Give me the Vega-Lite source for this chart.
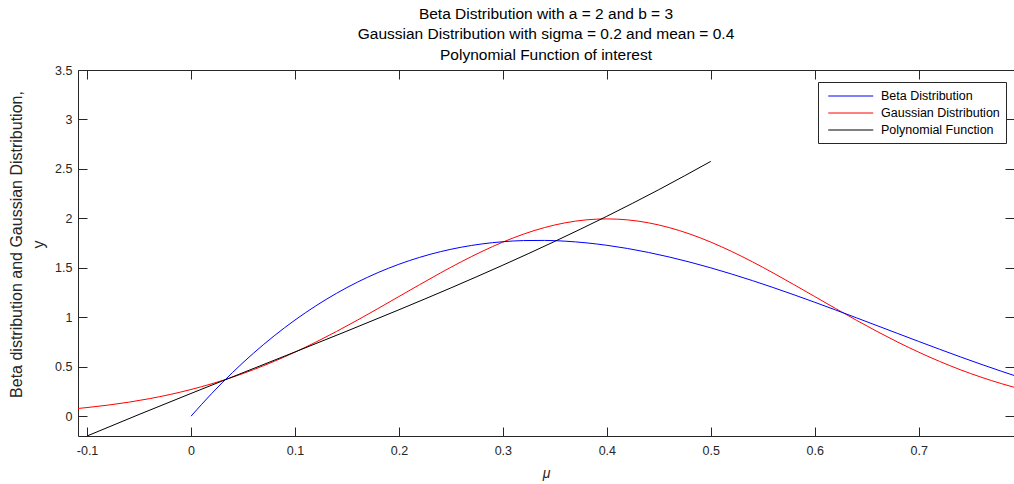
{
  "$schema": "https://vega.github.io/schema/vega-lite/v6.json",
  "width": 936,
  "height": 366,
  "autosize": {"type": "none"},
  "padding": {"left": 78, "top": 70, "right": 0, "bottom": 48},
  "background": "white",
  "config": {
    "font": "Liberation Sans",
    "view": {"stroke": "#262626", "strokeWidth": 1},
    "axis": {"grid": false, "domain": false, "tickColor": "#262626", "labelColor": "#262626", "titleColor": "#262626", "labelFont": "Liberation Sans", "titleFont": "Liberation Sans"}
  },
  "title": {
    "text": ["Beta Distribution with a = 2 and b = 3", "Gaussian Distribution with sigma = 0.2 and mean = 0.4", "Polynomial Function of interest"],
    "fontSize": 15.5,
    "fontWeight": "normal",
    "color": "#000000",
    "lineHeight": 20.5,
    "anchor": "middle",
    "offset": 1,
    "font": "Liberation Sans"
  },
  "data": {"values": [
    {"x": -0.1087, "y": 0.0782, "s": "Gaussian Distribution"},
    {"x": -0.1, "y": 0.0876, "s": "Gaussian Distribution"},
    {"x": -0.08, "y": 0.1120, "s": "Gaussian Distribution"},
    {"x": -0.06, "y": 0.1416, "s": "Gaussian Distribution"},
    {"x": -0.04, "y": 0.1774, "s": "Gaussian Distribution"},
    {"x": -0.02, "y": 0.2199, "s": "Gaussian Distribution"},
    {"x": 0.0, "y": 0.2700, "s": "Gaussian Distribution"},
    {"x": 0.02, "y": 0.3281, "s": "Gaussian Distribution"},
    {"x": 0.04, "y": 0.3948, "s": "Gaussian Distribution"},
    {"x": 0.06, "y": 0.4702, "s": "Gaussian Distribution"},
    {"x": 0.08, "y": 0.5546, "s": "Gaussian Distribution"},
    {"x": 0.10, "y": 0.6476, "s": "Gaussian Distribution"},
    {"x": 0.12, "y": 0.7486, "s": "Gaussian Distribution"},
    {"x": 0.14, "y": 0.8568, "s": "Gaussian Distribution"},
    {"x": 0.16, "y": 0.9709, "s": "Gaussian Distribution"},
    {"x": 0.18, "y": 1.0892, "s": "Gaussian Distribution"},
    {"x": 0.20, "y": 1.2099, "s": "Gaussian Distribution"},
    {"x": 0.22, "y": 1.3304, "s": "Gaussian Distribution"},
    {"x": 0.24, "y": 1.4485, "s": "Gaussian Distribution"},
    {"x": 0.26, "y": 1.5613, "s": "Gaussian Distribution"},
    {"x": 0.28, "y": 1.6661, "s": "Gaussian Distribution"},
    {"x": 0.30, "y": 1.7603, "s": "Gaussian Distribution"},
    {"x": 0.32, "y": 1.8414, "s": "Gaussian Distribution"},
    {"x": 0.34, "y": 1.9069, "s": "Gaussian Distribution"},
    {"x": 0.36, "y": 1.9552, "s": "Gaussian Distribution"},
    {"x": 0.38, "y": 1.9848, "s": "Gaussian Distribution"},
    {"x": 0.40, "y": 1.9947, "s": "Gaussian Distribution"},
    {"x": 0.42, "y": 1.9848, "s": "Gaussian Distribution"},
    {"x": 0.44, "y": 1.9552, "s": "Gaussian Distribution"},
    {"x": 0.46, "y": 1.9069, "s": "Gaussian Distribution"},
    {"x": 0.48, "y": 1.8414, "s": "Gaussian Distribution"},
    {"x": 0.50, "y": 1.7603, "s": "Gaussian Distribution"},
    {"x": 0.52, "y": 1.6661, "s": "Gaussian Distribution"},
    {"x": 0.54, "y": 1.5613, "s": "Gaussian Distribution"},
    {"x": 0.56, "y": 1.4485, "s": "Gaussian Distribution"},
    {"x": 0.58, "y": 1.3304, "s": "Gaussian Distribution"},
    {"x": 0.60, "y": 1.2099, "s": "Gaussian Distribution"},
    {"x": 0.62, "y": 1.0892, "s": "Gaussian Distribution"},
    {"x": 0.64, "y": 0.9709, "s": "Gaussian Distribution"},
    {"x": 0.66, "y": 0.8568, "s": "Gaussian Distribution"},
    {"x": 0.68, "y": 0.7486, "s": "Gaussian Distribution"},
    {"x": 0.70, "y": 0.6476, "s": "Gaussian Distribution"},
    {"x": 0.72, "y": 0.5546, "s": "Gaussian Distribution"},
    {"x": 0.74, "y": 0.4702, "s": "Gaussian Distribution"},
    {"x": 0.76, "y": 0.3948, "s": "Gaussian Distribution"},
    {"x": 0.78, "y": 0.3281, "s": "Gaussian Distribution"},
    {"x": 0.7917, "y": 0.2931, "s": "Gaussian Distribution"},
    {"x": 0.0, "y": 0.0, "s": "Beta Distribution"},
    {"x": 0.02, "y": 0.2305, "s": "Beta Distribution"},
    {"x": 0.04, "y": 0.4424, "s": "Beta Distribution"},
    {"x": 0.06, "y": 0.6362, "s": "Beta Distribution"},
    {"x": 0.08, "y": 0.8125, "s": "Beta Distribution"},
    {"x": 0.10, "y": 0.9720, "s": "Beta Distribution"},
    {"x": 0.12, "y": 1.1151, "s": "Beta Distribution"},
    {"x": 0.14, "y": 1.2425, "s": "Beta Distribution"},
    {"x": 0.16, "y": 1.3548, "s": "Beta Distribution"},
    {"x": 0.18, "y": 1.4524, "s": "Beta Distribution"},
    {"x": 0.20, "y": 1.5360, "s": "Beta Distribution"},
    {"x": 0.22, "y": 1.6062, "s": "Beta Distribution"},
    {"x": 0.24, "y": 1.6635, "s": "Beta Distribution"},
    {"x": 0.26, "y": 1.7085, "s": "Beta Distribution"},
    {"x": 0.28, "y": 1.7418, "s": "Beta Distribution"},
    {"x": 0.30, "y": 1.7640, "s": "Beta Distribution"},
    {"x": 0.32, "y": 1.7756, "s": "Beta Distribution"},
    {"x": 0.34, "y": 1.7772, "s": "Beta Distribution"},
    {"x": 0.36, "y": 1.7695, "s": "Beta Distribution"},
    {"x": 0.38, "y": 1.7529, "s": "Beta Distribution"},
    {"x": 0.40, "y": 1.7280, "s": "Beta Distribution"},
    {"x": 0.42, "y": 1.6955, "s": "Beta Distribution"},
    {"x": 0.44, "y": 1.6558, "s": "Beta Distribution"},
    {"x": 0.46, "y": 1.6096, "s": "Beta Distribution"},
    {"x": 0.48, "y": 1.5575, "s": "Beta Distribution"},
    {"x": 0.50, "y": 1.5000, "s": "Beta Distribution"},
    {"x": 0.52, "y": 1.4377, "s": "Beta Distribution"},
    {"x": 0.54, "y": 1.3712, "s": "Beta Distribution"},
    {"x": 0.56, "y": 1.3010, "s": "Beta Distribution"},
    {"x": 0.58, "y": 1.2277, "s": "Beta Distribution"},
    {"x": 0.60, "y": 1.1520, "s": "Beta Distribution"},
    {"x": 0.62, "y": 1.0743, "s": "Beta Distribution"},
    {"x": 0.64, "y": 0.9953, "s": "Beta Distribution"},
    {"x": 0.66, "y": 0.9156, "s": "Beta Distribution"},
    {"x": 0.68, "y": 0.8356, "s": "Beta Distribution"},
    {"x": 0.70, "y": 0.7560, "s": "Beta Distribution"},
    {"x": 0.72, "y": 0.6774, "s": "Beta Distribution"},
    {"x": 0.74, "y": 0.6003, "s": "Beta Distribution"},
    {"x": 0.76, "y": 0.5253, "s": "Beta Distribution"},
    {"x": 0.78, "y": 0.4530, "s": "Beta Distribution"},
    {"x": 0.7917, "y": 0.4122, "s": "Beta Distribution"},
    {"x": -0.1, "y": -0.2000, "s": "Polynomial Function"},
    {"x": -0.05, "y": 0.0174, "s": "Polynomial Function"},
    {"x": 0.0, "y": 0.2300, "s": "Polynomial Function"},
    {"x": 0.05, "y": 0.4399, "s": "Polynomial Function"},
    {"x": 0.10, "y": 0.6493, "s": "Polynomial Function"},
    {"x": 0.15, "y": 0.8605, "s": "Polynomial Function"},
    {"x": 0.20, "y": 1.0757, "s": "Polynomial Function"},
    {"x": 0.25, "y": 1.2971, "s": "Polynomial Function"},
    {"x": 0.30, "y": 1.5271, "s": "Polynomial Function"},
    {"x": 0.35, "y": 1.7677, "s": "Polynomial Function"},
    {"x": 0.40, "y": 2.0213, "s": "Polynomial Function"},
    {"x": 0.45, "y": 2.2900, "s": "Polynomial Function"},
    {"x": 0.50, "y": 2.5761, "s": "Polynomial Function"}
  ]},
  "layer": [
    {
      "mark": {"type": "line", "strokeWidth": 1, "interpolate": "monotone", "clip": true},
      "encoding": {
        "x": {"field": "x", "type": "quantitative",
          "scale": {"domain": [-0.1087, 0.7917], "nice": false, "zero": false},
          "axis": {"orient": "bottom", "values": [-0.1, 0, 0.1, 0.2, 0.3, 0.4, 0.5, 0.6, 0.7],
            "labelExpr": "datum.value < 0 ? '-' + format(-datum.value, '~g') : format(datum.value, '~g')",
            "tickSize": -9, "labelPadding": 17, "labelFontSize": 12.5,
            "title": "μ", "titleFontSize": 14, "titleFontStyle": "italic", "titleFontWeight": "normal", "titlePadding": 10}},
        "y": {"field": "y", "type": "quantitative",
          "scale": {"domain": [-0.2, 3.5], "nice": false, "zero": false},
          "axis": {"orient": "left", "values": [0, 0.5, 1, 1.5, 2, 2.5, 3, 3.5],
            "labelExpr": "format(datum.value, '~g')",
            "tickSize": -9, "labelPadding": 15, "labelFontSize": 12.5,
            "title": ["Beta distribution and Gaussian Distribution,", "y"], "titleFontSize": 16, "titleFontWeight": "normal", "titleLineHeight": 22, "titlePadding": 8, "titleY": 174}},
        "color": {"field": "s", "type": "nominal",
          "scale": {"domain": ["Beta Distribution", "Gaussian Distribution", "Polynomial Function"], "range": ["#0000FF", "#FF0000", "#000000"]},
          "legend": {"title": null, "orient": "none", "legendX": 740, "legendY": 12,
            "strokeColor": "#262626", "fillColor": "white", "padding": 6,
            "symbolType": "M-0.5,0H5.5", "symbolSize": 225, "symbolStrokeWidth": 1,
            "labelOffset": 41, "labelFontSize": 12.5, "labelColor": "#000000", "labelFont": "Liberation Sans", "rowPadding": 2}}
      }
    },
    {
      "mark": {"type": "line", "opacity": 0},
      "encoding": {
        "x": {"field": "x", "type": "quantitative",
          "scale": {"domain": [-0.1087, 0.7917], "nice": false, "zero": false},
          "axis": {"orient": "top", "values": [-0.1, 0, 0.1, 0.2, 0.3, 0.4, 0.5, 0.6, 0.7], "labels": false, "tickSize": -9, "title": null}},
        "y": {"field": "y", "type": "quantitative",
          "scale": {"domain": [-0.2, 3.5], "nice": false, "zero": false},
          "axis": {"orient": "right", "values": [0, 0.5, 1, 1.5, 2, 2.5, 3, 3.5], "labels": false, "tickSize": -9, "title": null}}
      }
    }
  ],
  "resolve": {"axis": {"x": "independent", "y": "independent"}}
}
